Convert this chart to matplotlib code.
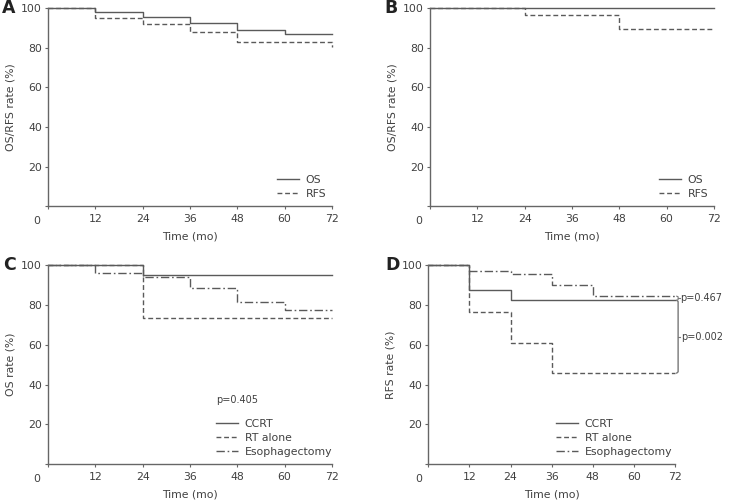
import matplotlib
matplotlib.use("Agg")
import matplotlib.pyplot as plt

plt.rcParams['font.family'] = ['DejaVu Sans']

# ---- data ----
time_ticks = [0, 12, 24, 36, 48, 60, 72]
y_ticks = [20, 40, 60, 80, 100]

# Panel A
a_os_t = [0, 12, 24, 36, 48, 60, 72]
a_os_s = [100, 98, 95.4, 92.4, 88.8, 86.7, 86.7]
a_rfs_t = [0, 12, 24, 36, 48, 72]
a_rfs_s = [100, 95, 92, 88, 83, 80.3]

# Panel B
b_os_t = [0, 72]
b_os_s = [100, 100]
b_rfs_t = [0, 24, 48, 72]
b_rfs_s = [100, 96.6, 89.4, 89.4]

# Panel C (OS by treatment)
c_ccrt_t = [0, 24, 72]
c_ccrt_s = [100, 95.4, 95.4]
c_rt_t = [0, 24, 72]
c_rt_s = [100, 73.3, 73.3]
c_eso_t = [0, 12, 24, 36, 48, 60, 72]
c_eso_s = [100, 96, 94, 88.7, 81.4, 77.3, 77.3]
c_p = "p=0.405"

# Panel D (RFS by treatment)
d_ccrt_t = [0, 12, 24, 72]
d_ccrt_s = [100, 87.5, 82.4, 82.4]
d_rt_t = [0, 12, 24, 36, 72]
d_rt_s = [100, 76.6, 61, 45.8, 45.8]
d_eso_t = [0, 12, 24, 36, 48, 72]
d_eso_s = [100, 97.2, 95.6, 89.9, 84.5, 84.5]
d_p1 = "p=0.467"
d_p2 = "p=0.002"

LC = '#5a5a5a'
TC = '#404040'
FS = 7.8

fig = plt.figure(figsize=(7.3, 5.04), dpi=100)

def setup(ax, ylabel, letter):
    ax.set_xlim(0, 72)
    ax.set_ylim(0, 100)
    for s in ['top', 'right']:
        ax.spines[s].set_visible(False)
    for s in ['left', 'bottom']:
        ax.spines[s].set_color('#666666')
        ax.spines[s].set_linewidth(1.0)
    ax.set_xticks(time_ticks)
    ax.set_xticklabels([''] + [str(t) for t in time_ticks[1:]])
    ax.set_yticks([0] + y_ticks)
    ax.set_yticklabels([''] + [str(v) for v in y_ticks])
    ax.tick_params(axis='both', colors='#666666', labelcolor=TC, labelsize=FS,
                   length=2.5, width=0.8)
    ax.tick_params(axis='y', pad=1.8)
    ax.tick_params(axis='x', pad=3.5)
    ax.text(-0.04, -0.05, '0', transform=ax.transAxes, ha='center', va='top',
            fontsize=FS, color=TC)
    ax.set_xlabel('Time (mo)', fontsize=FS, color=TC, labelpad=5)
    ax.set_ylabel(ylabel, fontsize=FS, color=TC, labelpad=4)
    ax.text(-0.115, 1.0, letter, transform=ax.transAxes, ha='right', va='center',
            fontsize=12.5, fontweight='bold', color='#222222', family='Liberation Sans Narrow')

def step(ax, t, s, ls, label):
    ax.step(t, s, where='post', color=LC, lw=1.0, ls=ls, label=label, clip_on=False)

def legend(ax, x, y):
    ax.legend(loc='upper left', bbox_to_anchor=(x, y), frameon=False, fontsize=FS,
              handlelength=2.0, handletextpad=0.65, labelspacing=0.38, labelcolor=TC,
              borderpad=0, borderaxespad=0)

dashdot = (0, (6, 2, 1.2, 2))
dash = (0, (3.5, 2))

# A
axA = fig.add_axes([0.0658, 0.591, 0.389, 0.393])
step(axA, a_os_t, a_os_s, '-', 'OS')
step(axA, a_rfs_t, a_rfs_s, dash, 'RFS')
setup(axA, 'OS/RFS rate (%)', 'A')
legend(axA, 0.806, 0.158)

# B
axB = fig.add_axes([0.589, 0.591, 0.389, 0.393])
step(axB, b_os_t, b_os_s, '-', 'OS')
step(axB, b_rfs_t, b_rfs_s, dash, 'RFS')
setup(axB, 'OS/RFS rate (%)', 'B')
legend(axB, 0.806, 0.158)

# C
axC = fig.add_axes([0.0658, 0.0794, 0.389, 0.394])
step(axC, c_ccrt_t, c_ccrt_s, '-', 'CCRT')
step(axC, c_rt_t, c_rt_s, dash, 'RT alone')
step(axC, c_eso_t, c_eso_s, dashdot, 'Esophagectomy')
setup(axC, 'OS rate (%)', 'C')
legend(axC, 0.592, 0.228)
axC.text(0.592, 0.323, c_p, transform=axC.transAxes, fontsize=FS - 0.8, color=TC,
         ha='left', va='center')

# D
axD = fig.add_axes([0.5867, 0.0794, 0.338, 0.394])
step(axD, d_ccrt_t, d_ccrt_s, '-', 'CCRT')
step(axD, d_rt_t, d_rt_s, dash, 'RT alone')
step(axD, d_eso_t, d_eso_s, dashdot, 'Esophagectomy')
setup(axD, 'RFS rate (%)', 'D')
legend(axD, 0.518, 0.228)
bx = 72.9
axD.plot([bx - 0.4, bx, bx, bx - 0.4], [d_eso_s[-1], d_eso_s[-1] - 0.3, d_ccrt_s[-1] + 0.3, d_ccrt_s[-1]],
         color='#777777', lw=0.8, clip_on=False)
m1 = (d_eso_s[-1] + d_ccrt_s[-1]) / 2
axD.plot([bx, bx + 0.5], [m1, m1], color='#777777', lw=0.8, clip_on=False)
axD.plot([bx - 0.4, bx, bx, bx - 0.4], [d_ccrt_s[-1], d_ccrt_s[-1] - 0.6, d_rt_s[-1] + 0.6, d_rt_s[-1]],
         color='#777777', lw=1.0, clip_on=False)
m2 = (d_ccrt_s[-1] + d_rt_s[-1]) / 2
axD.plot([bx, bx + 0.5], [m2, m2], color='#777777', lw=0.8, clip_on=False)
axD.text(bx + 0.6, m1, d_p1, fontsize=FS - 0.8, color=TC, ha='left', va='center')
axD.text(bx + 0.9, m2, d_p2, fontsize=FS - 0.8, color=TC, ha='left', va='center')

fig.savefig('out.png', dpi=100)
